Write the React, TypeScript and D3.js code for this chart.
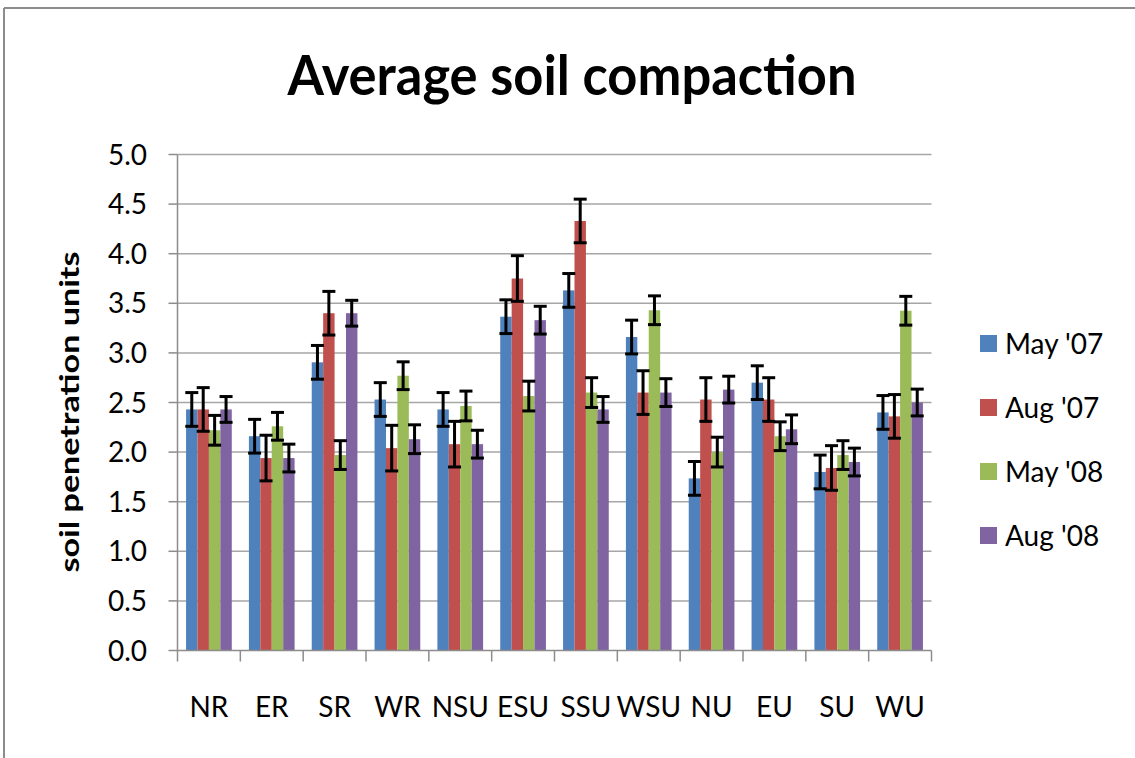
import React from "react";
import * as d3 from "d3";

const categories = ["NR", "ER", "SR", "WR", "NSU", "ESU", "SSU", "WSU", "NU", "EU", "SU", "WU"];
const seriesNames = ["May '07", "Aug '07", "May '08", "Aug '08"];
const seriesColors = ["#4F81BD", "#C0504D", "#9BBB59", "#8064A2"];
const may07 = [2.43, 2.16, 2.905, 2.53, 2.43, 3.365, 3.63, 3.16, 1.735, 2.7, 1.8, 2.4];
const aug07 = [2.43, 1.94, 3.4, 2.04, 2.08, 3.75, 4.33, 2.6, 2.53, 2.53, 1.84, 2.36];
const may08 = [2.22, 2.26, 1.97, 2.77, 2.465, 2.565, 2.6, 3.43, 2.0, 2.16, 1.97, 3.425];
const aug08 = [2.43, 1.94, 3.4, 2.13, 2.08, 3.33, 2.43, 2.6, 2.63, 2.23, 1.9, 2.5];
const errMay07 = [0.17, 0.17, 0.17, 0.17, 0.17, 0.17, 0.17, 0.17, 0.17, 0.17, 0.17, 0.17];
const errAug07 = [0.22, 0.23, 0.22, 0.23, 0.23, 0.23, 0.22, 0.22, 0.22, 0.22, 0.225, 0.22];
const errMay08 = [0.15, 0.14, 0.145, 0.14, 0.15, 0.15, 0.15, 0.145, 0.15, 0.145, 0.145, 0.145];
const errAug08 = [0.13, 0.14, 0.13, 0.145, 0.14, 0.14, 0.13, 0.14, 0.135, 0.145, 0.14, 0.135];
const yTicks = [0, 0.5, 1.0, 1.5, 2.0, 2.5, 3.0, 3.5, 4.0, 4.5, 5.0];

const values = [may07, aug07, may08, aug08];
const errors = [errMay07, errAug07, errMay08, errAug08];

const W = 1135;
const H = 758;
const plotLeft = 177.5;
const plotRight = 931.5;
const plotTop = 154.5;
const plotBottom = 650.5;
const FONT = "Lato, 'Open Sans', 'Noto Sans', sans-serif";

export default function App() {
  const x = d3.scaleBand<string>().domain(categories).range([plotLeft, plotRight]);
  const y = d3.scaleLinear().domain([0, 5]).range([plotBottom, plotTop]);
  const bw = x.bandwidth() / 5.5;
  const grey = "#a6a6a6";
  const axisGrey = "#8c8c8c";

  return (
    <svg
      width={W}
      height={H}
      style={{ position: "absolute", left: 0, top: 0, background: "#fff" }}
      fontFamily={FONT}
    >
      <rect x={0} y={0} width={W} height={H} fill="#fff" />
      {/* chart frame (only top and left visible) */}
      <line x1={4} y1={8} x2={W} y2={8} stroke="#8c8c8c" strokeWidth={2} />
      <line x1={4} y1={8} x2={4} y2={H} stroke="#8c8c8c" strokeWidth={2} />

      {/* title */}
      <text
        x={572}
        y={95}
        textAnchor="middle"
        fontSize={56}
        fontWeight="bold"
        textLength={569}
        lengthAdjust="spacingAndGlyphs"
        fill="#000"
      >
        Average soil compaction
      </text>

      {/* gridlines */}
      {yTicks.map((t) =>
        t === 0 ? null : (
          <line key={"g" + t} x1={plotLeft} x2={plotRight} y1={y(t)} y2={y(t)} stroke={grey} strokeWidth={1.5} />
        )
      )}

      {/* bars */}
      {categories.map((c, ci) =>
        values.map((vals, si) => (
          <rect
            key={c + si}
            x={(x(c) as number) + bw * 0.75 + si * bw}
            y={y(vals[ci])}
            width={bw}
            height={y(0) - y(vals[ci])}
            fill={seriesColors[si]}
          />
        ))
      )}

      {/* error bars */}
      {categories.map((c, ci) =>
        values.map((vals, si) => {
          const cx = (x(c) as number) + bw * 0.75 + si * bw + bw / 2;
          const hi = y(vals[ci] + errors[si][ci]);
          const lo = y(vals[ci] - errors[si][ci]);
          return (
            <g key={"e" + c + si} stroke="#000" strokeWidth={3}>
              <line x1={cx} x2={cx} y1={hi} y2={lo} />
              <line x1={cx - 6.5} x2={cx + 6.5} y1={hi} y2={hi} />
              <line x1={cx - 6.5} x2={cx + 6.5} y1={lo} y2={lo} />
            </g>
          );
        })
      )}

      {/* y axis */}
      <line x1={plotLeft} x2={plotLeft} y1={plotTop} y2={plotBottom} stroke={axisGrey} strokeWidth={1.5} />
      {yTicks.map((t) => (
        <g key={"t" + t}>
          <line x1={plotLeft - 9} x2={plotLeft} y1={y(t)} y2={y(t)} stroke={axisGrey} strokeWidth={1.5} />
          <text x={147} y={y(t) + 10} textAnchor="end" fontSize={28} fill="#000">
            {t.toFixed(1)}
          </text>
        </g>
      ))}

      {/* x axis */}
      <line x1={plotLeft} x2={plotRight} y1={plotBottom} y2={plotBottom} stroke={axisGrey} strokeWidth={1.5} />
      {categories.map((c) => (
        <line
          key={"xt" + c}
          x1={x(c) as number}
          x2={x(c) as number}
          y1={plotBottom}
          y2={plotBottom + 11}
          stroke={axisGrey}
          strokeWidth={1.5}
        />
      ))}
      <line x1={plotRight} x2={plotRight} y1={plotBottom} y2={plotBottom + 11} stroke={axisGrey} strokeWidth={1.5} />
      {categories.map((c) => (
        <text
          key={"xl" + c}
          x={(x(c) as number) + x.bandwidth() / 2}
          y={717}
          textAnchor="middle"
          fontSize={28}
          fill="#000"
        >
          {c}
        </text>
      ))}

      {/* y axis title */}
      <text
        transform={`translate(79,412) rotate(-90)`}
        textAnchor="middle"
        fontSize={26}
        fontWeight="bold"
        textLength={321}
        lengthAdjust="spacingAndGlyphs"
        fill="#000"
      >
        soil penetration units
      </text>

      {/* legend */}
      {seriesNames.map((n, i) => (
        <g key={"lg" + n} transform={`translate(980, ${335 + i * 64})`}>
          <rect x={0} y={0} width={17} height={17} fill={seriesColors[i]} />
          <text x={25} y={19} fontSize={28} fill="#000">
            {n}
          </text>
        </g>
      ))}
    </svg>
  );
}
